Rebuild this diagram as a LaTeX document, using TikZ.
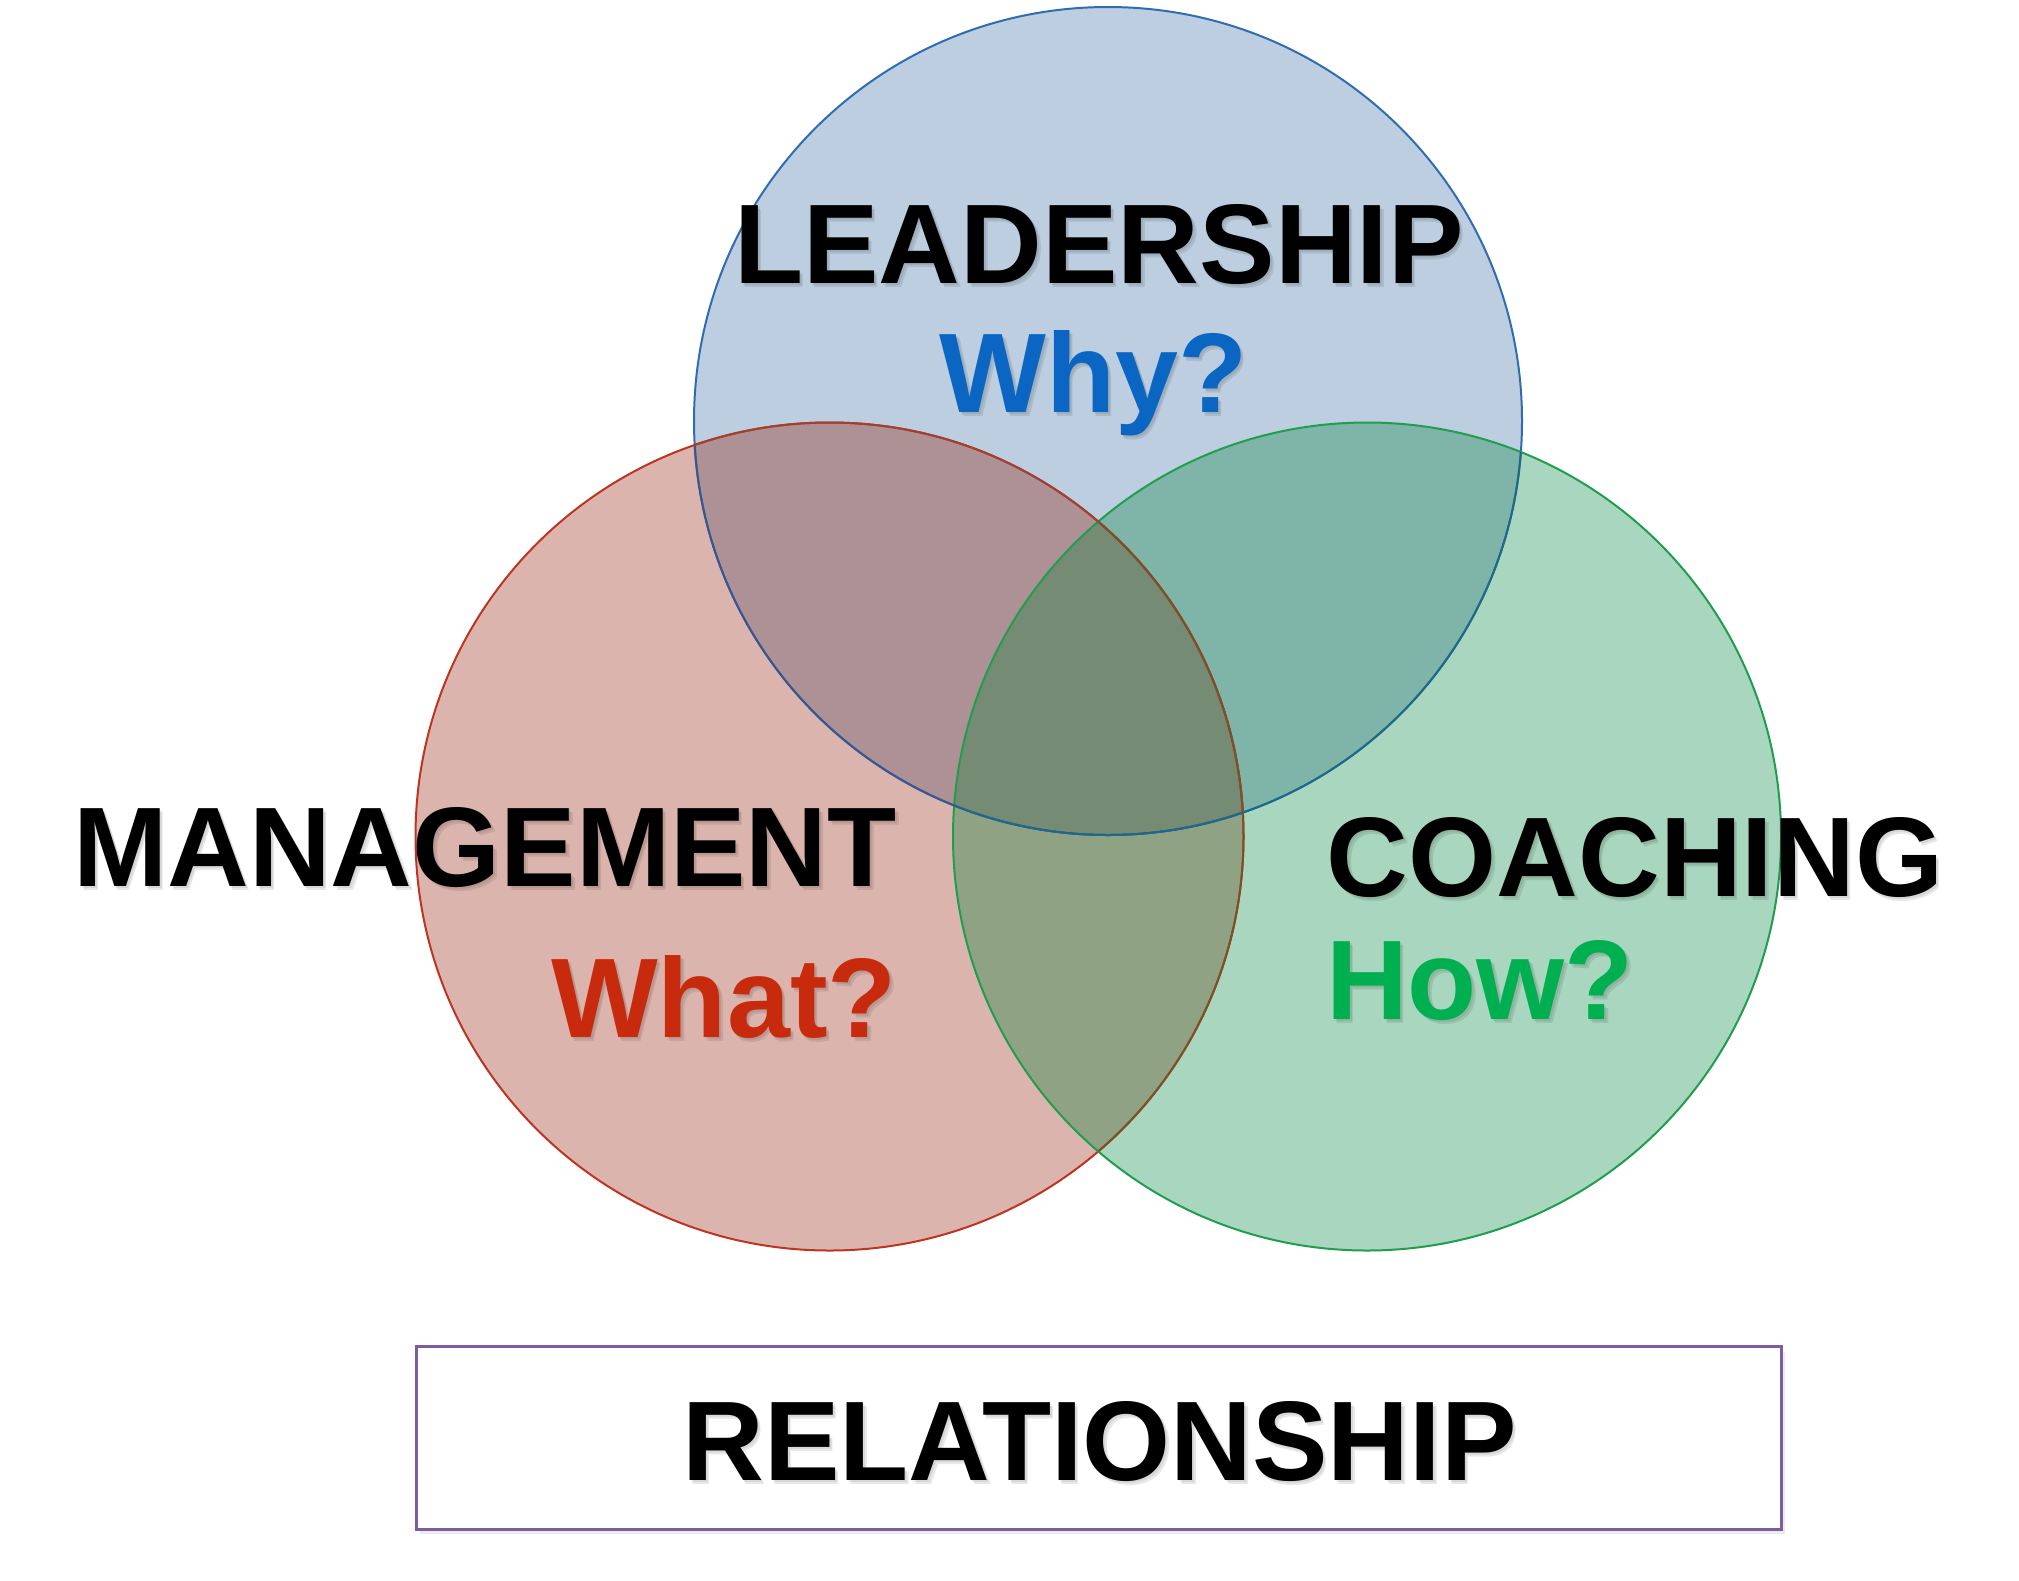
\documentclass[tikz,border=0pt]{standalone}
\usepackage{fontspec}
\setmainfont{Liberation Sans}
\definecolor{topfill}{HTML}{BCCEDF}
\definecolor{leftfill}{HTML}{DBB5AD}
\definecolor{rightfill}{HTML}{A9D6BE}
\definecolor{tlfill}{HTML}{AD9195}
\definecolor{trfill}{HTML}{7FB4A8}
\definecolor{lrfill}{HTML}{8FA384}
\definecolor{cfill}{HTML}{758B74}
\definecolor{topline}{HTML}{2F6DB3}
\definecolor{leftline}{HTML}{BF3420}
\definecolor{rightline}{HTML}{1F9E50}
\definecolor{topinleft}{HTML}{3A558F}
\definecolor{topinright}{HTML}{1E6A86}
\definecolor{leftintop}{HTML}{A0402E}
\definecolor{leftinright}{HTML}{7A5228}
\definecolor{boxline}{HTML}{7E5CA0}
\definecolor{whyc}{HTML}{0A66C2}
\definecolor{whatc}{HTML}{C82A0E}
\definecolor{howc}{HTML}{00B050}
\tikzset{
  lbl/.style={inner sep=0pt, outer sep=0pt, anchor=base, font=\fontsize{32.2}{38}\selectfont\bfseries},
  shad/.style={lbl, text=black, text opacity=0.09, xshift=0.35mm, yshift=-0.45mm},
  shadb/.style={lbl, text=black, text opacity=0.07, xshift=0.2mm, yshift=-0.25mm},
  ring/.style={line width=0.2mm}
}
\begin{document}
\begin{tikzpicture}[x=0.1mm,y=-0.1mm]
\useasboundingbox (0,0) rectangle (2019,1580);
\fill[white] (0,0) rectangle (2019,1580);
\def\rr{414}
\coordinate (T) at (1108,421);
\coordinate (L) at (829.5,836.5);
\coordinate (R) at (1367,836.5);
% base fills
\fill[topfill] (T) circle[radius=\rr];
\fill[leftfill] (L) circle[radius=\rr];
\fill[rightfill] (R) circle[radius=\rr];
% pairwise overlaps
\begin{scope}
  \clip (T) circle[radius=\rr];
  \fill[tlfill] (L) circle[radius=\rr];
  \fill[trfill] (R) circle[radius=\rr];
\end{scope}
\begin{scope}
  \clip (L) circle[radius=\rr];
  \fill[lrfill] (R) circle[radius=\rr];
\end{scope}
% triple overlap
\begin{scope}
  \clip (T) circle[radius=\rr];
  \clip (L) circle[radius=\rr];
  \fill[cfill] (R) circle[radius=\rr];
\end{scope}
% outlines
\draw[ring, topline] (T) circle[radius=\rr];
\draw[ring, leftline] (L) circle[radius=\rr];
\draw[ring, rightline] (R) circle[radius=\rr];
% outlines seen through the later, translucent circles
\begin{scope}
  \clip (L) circle[radius=\rr];
  \draw[ring, topinleft] (T) circle[radius=\rr];
\end{scope}
\begin{scope}
  \clip (T) circle[radius=\rr];
  \draw[ring, leftintop] (L) circle[radius=\rr];
\end{scope}
\begin{scope}
  \clip (R) circle[radius=\rr];
  \draw[ring, topinright] (T) circle[radius=\rr];
  \draw[ring, leftinright] (L) circle[radius=\rr];
\end{scope}
% labels
\node[shad] (leadS) at (1099,283) {LEADERSHIP};
\node[shadb] (leadB) at (1099,283) {LEADERSHIP};
\node[lbl] (lead) at (1099,283) {LEADERSHIP};
\node[shad] (whyS) at (1093.5,412) {Why?};
\node[shadb] (whyB) at (1093.5,412) {Why?};
\node[lbl, text=whyc] (why) at (1093.5,412) {Why?};
\node[shad] (mgmtS) at (485,886) {MANAGEMENT};
\node[shadb] (mgmtB) at (485,886) {MANAGEMENT};
\node[lbl] (mgmt) at (485,886) {MANAGEMENT};
\node[shad] (whatS) at (724,1037) {What?};
\node[shadb] (whatB) at (724,1037) {What?};
\node[lbl, text=whatc] (what) at (724,1037) {What?};
\node[shad] (coachS) at (1635,896) {COACHING};
\node[shadb] (coachB) at (1635,896) {COACHING};
\node[lbl] (coach) at (1635,896) {COACHING};
\node[shad] (howS) at (1480,1019) {How?};
\node[shadb] (howB) at (1480,1019) {How?};
\node[lbl, text=howc] (how) at (1480,1019) {How?};
% relationship box
\node[fill=black, fill opacity=0.08, inner sep=0pt, minimum width=136.5mm, minimum height=18.23mm, xshift=0.3mm, yshift=-0.5mm] (boxS) at (1099.2,1437.9) {};
\node[draw=boxline, fill=white, line width=0.3mm, inner sep=0pt, minimum width=136.5mm, minimum height=18.23mm] (box) at (1099.2,1437.9) {};
\node[shad] (relS) at (1099.5,1480) {RELATIONSHIP};
\node[shadb] (relB) at (1099.5,1480) {RELATIONSHIP};
\node[lbl] (rel) at (1099.5,1480) {RELATIONSHIP};
\end{tikzpicture}
\end{document}
